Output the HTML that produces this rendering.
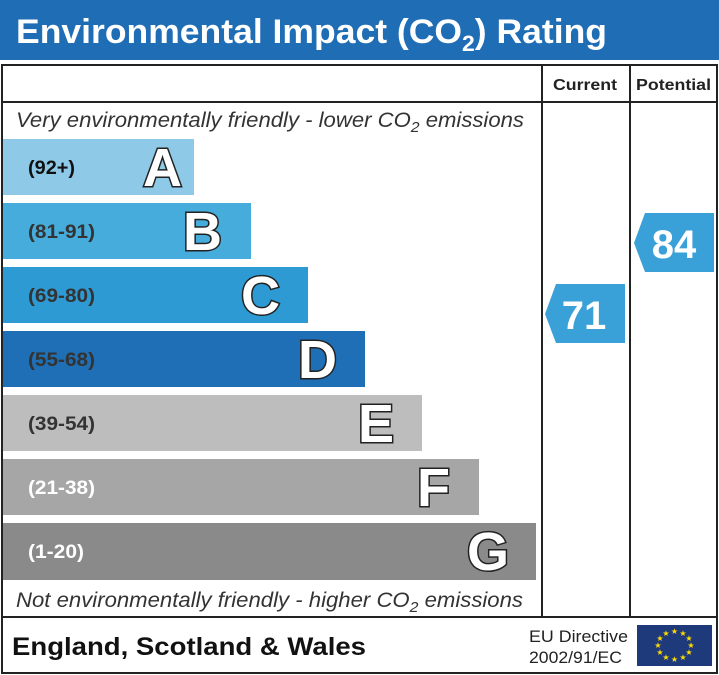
<!DOCTYPE html>
<html><head><style>body{margin:0;background:#fff}svg{display:block}</style></head><body>
<svg width="719" height="675" xmlns="http://www.w3.org/2000/svg" font-family="Liberation Sans, Arial, sans-serif">
<rect x="0" y="0" width="719" height="60" fill="#1f6db5"/>
<text x="16" y="43" font-size="34" font-weight="bold" fill="#fff" textLength="591" lengthAdjust="spacingAndGlyphs">Environmental Impact (CO<tspan font-size="22" dy="8">2</tspan><tspan dy="-8">) Rating</tspan></text>
<rect x="2" y="65" width="715" height="608" fill="none" stroke="#222" stroke-width="2"/>
<line x1="2" y1="102" x2="717" y2="102" stroke="#222" stroke-width="2"/>
<line x1="542" y1="65" x2="542" y2="617" stroke="#222" stroke-width="2"/>
<line x1="630" y1="65" x2="630" y2="617" stroke="#222" stroke-width="2"/>
<line x1="2" y1="617" x2="717" y2="617" stroke="#222" stroke-width="2"/>
<text x="553" y="90" font-size="16" font-weight="bold" fill="#222" textLength="64" lengthAdjust="spacingAndGlyphs">Current</text>
<text x="636" y="90" font-size="16" font-weight="bold" fill="#222" textLength="75" lengthAdjust="spacingAndGlyphs">Potential</text>
<text x="16" y="127" font-size="21" font-style="italic" fill="#333" textLength="508" lengthAdjust="spacingAndGlyphs">Very environmentally friendly - lower CO<tspan font-size="15" dy="5">2</tspan><tspan dy="-5"> emissions</tspan></text>
<text x="16" y="607" font-size="21" font-style="italic" fill="#333" textLength="507" lengthAdjust="spacingAndGlyphs">Not environmentally friendly - higher CO<tspan font-size="15" dy="5">2</tspan><tspan dy="-5"> emissions</tspan></text>
<g font-weight="bold">
<rect x="3" y="139" width="191" height="56" fill="#8ec9e8"/>
<text x="28" y="174" font-size="19" fill="#111" textLength="47" lengthAdjust="spacingAndGlyphs">(92+)</text>
<text x="182" y="186" font-size="54" text-anchor="end" fill="#fff" stroke="#222" stroke-width="3" paint-order="stroke">A</text>
<rect x="3" y="203" width="248" height="56" fill="#45acdc"/>
<text x="28" y="238" font-size="19" fill="#333" textLength="67" lengthAdjust="spacingAndGlyphs">(81-91)</text>
<text x="222" y="250" font-size="54" text-anchor="end" fill="#fff" stroke="#222" stroke-width="3" paint-order="stroke">B</text>
<rect x="3" y="267" width="305" height="56" fill="#2e9ad4"/>
<text x="28" y="302" font-size="19" fill="#333" textLength="67" lengthAdjust="spacingAndGlyphs">(69-80)</text>
<text x="280" y="314" font-size="54" text-anchor="end" fill="#fff" stroke="#222" stroke-width="3" paint-order="stroke">C</text>
<rect x="3" y="331" width="362" height="56" fill="#1e6fb6"/>
<text x="28" y="366" font-size="19" fill="#333" textLength="67" lengthAdjust="spacingAndGlyphs">(55-68)</text>
<text x="337" y="378" font-size="54" text-anchor="end" fill="#fff" stroke="#222" stroke-width="3" paint-order="stroke">D</text>
<rect x="3" y="395" width="419" height="56" fill="#bdbdbd"/>
<text x="28" y="430" font-size="19" fill="#333" textLength="67" lengthAdjust="spacingAndGlyphs">(39-54)</text>
<text x="394" y="442" font-size="54" text-anchor="end" fill="#fff" stroke="#222" stroke-width="3" paint-order="stroke">E</text>
<rect x="3" y="459" width="476" height="56" fill="#a6a6a6"/>
<text x="28" y="494" font-size="19" fill="#fff" textLength="67" lengthAdjust="spacingAndGlyphs">(21-38)</text>
<text x="450" y="506" font-size="54" text-anchor="end" fill="#fff" stroke="#222" stroke-width="3" paint-order="stroke">F</text>
<rect x="3" y="523" width="533" height="57" fill="#8a8a8a"/>
<text x="28" y="558" font-size="19" fill="#fff" textLength="56" lengthAdjust="spacingAndGlyphs">(1-20)</text>
<text x="509" y="570" font-size="54" text-anchor="end" fill="#fff" stroke="#222" stroke-width="3" paint-order="stroke">G</text>
<polygon points="545,314 556,284 625,284 625,343 556,343" fill="#3aa0d8"/>
<text x="584" y="329" font-size="40" text-anchor="middle" fill="#fff">71</text>
<polygon points="634,243 645,213 714,213 714,272 645,272" fill="#3aa0d8"/>
<text x="674" y="258" font-size="40" text-anchor="middle" fill="#fff">84</text>
</g>
<text x="12" y="655" font-size="25" font-weight="bold" fill="#111" textLength="354" lengthAdjust="spacingAndGlyphs">England, Scotland &amp; Wales</text>
<text x="529" y="642" font-size="17" fill="#222" textLength="99" lengthAdjust="spacingAndGlyphs">EU Directive</text>
<text x="529" y="663" font-size="17" fill="#222" textLength="93" lengthAdjust="spacingAndGlyphs">2002/91/EC</text>
<rect x="637" y="625" width="75" height="41" fill="#1f3a7a"/>
<g fill="#ffdd00" font-size="8" text-anchor="middle">
<text x="674.5" y="634">★</text><text x="683" y="636">★</text><text x="689" y="641">★</text><text x="691" y="648">★</text><text x="689" y="655">★</text><text x="683" y="660">★</text><text x="674.5" y="662">★</text><text x="666" y="660">★</text><text x="660" y="655">★</text><text x="658" y="648">★</text><text x="660" y="641">★</text><text x="666" y="636">★</text>
</g>
</svg>
</body></html>
